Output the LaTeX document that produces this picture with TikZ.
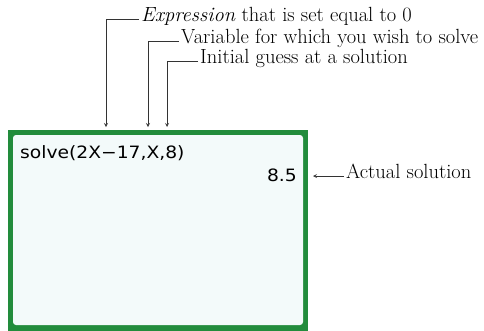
\documentclass[tikz,border=0pt]{standalone}
\usepackage{fontspec}
\newfontfamily\calcfont[FakeStretch=1.1]{DejaVu Sans}
\usetikzlibrary{positioning}
\definecolor{screengreen}{RGB}{34,140,60}
\definecolor{screenface}{RGB}{243,250,250}

\begin{document}
\begin{tikzpicture}[x=1pt, y=-1pt, >=stealth,
    callout/.style={font=\fontsize{20.5}{24}\selectfont, inner sep=0pt, anchor=mid west},
    calctext/.style={font=\calcfont\fontsize{17}{20}\selectfont, inner sep=0pt},
    leader/.style={->, line width=0.75pt, black!80}]
  \useasboundingbox (0,0) rectangle (484,330);

  % calculator screen
  \fill[screengreen] (8,130) rectangle (308,334);
  \fill[screenface, rounded corners=3pt] (13,135) rectangle (303,325);
  \node[calctext, anchor=base west] (cmd) at (20,158) {solve(2X−17,X,8)};
  \node[calctext, anchor=base east] (ans) at (297,181) {8.5};

  % callouts
  \node[callout] (expr) at (141,19) {\textit{Expression} that is set equal to 0};
  \node[callout] (var) at (181,41) {Variable for which you wish to solve};
  \node[callout] (guess) at (200,61) {Initial guess at a solution};
  \node[callout] (actual) at (346,176) {Actual solution};

  \coordinate (exprtip) at (106,127);
  \coordinate (vartip) at (148,127);
  \coordinate (guesstip) at (167,127);
  \coordinate (soltip) at (313,176);

  \draw[leader] ([xshift=-2pt]expr.mid west) -| (exprtip);
  \draw[leader] ([xshift=-2pt]var.mid west) -| (vartip);
  \draw[leader] ([xshift=-2pt]guess.mid west) -| (guesstip);
  \draw[leader] ([xshift=-2pt]actual.mid west) -- (soltip);
\end{tikzpicture}
\end{document}
